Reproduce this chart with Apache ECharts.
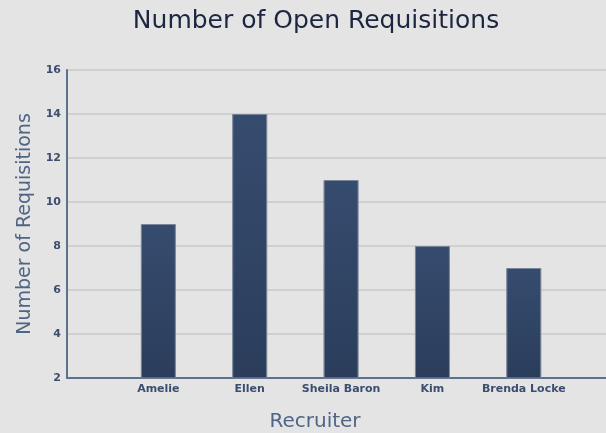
<!DOCTYPE html>
<html>
<head>
<meta charset="utf-8">
<script src="https://cdn.jsdelivr.net/npm/echarts@6/dist/echarts.min.js"></script>
<style>
	html, body { margin: 0; padding: 0; background: #e4e4e4; }
	#chart { width: 606px; height: 433px; }
</style>
</head>
<body>
<div id="chart"></div>
<script>
// 数据
const recruiters = ['Amelie', 'Ellen', 'Sheila Baron', 'Kim', 'Brenda Locke']
const openReqs = [9, 14, 11, 8, 7]
const yTicks = [2, 4, 6, 8, 10, 12, 14, 16]

const chartInstance = echarts.init(document.getElementById('chart'))
const labelColor = '#3b4e6e'
const nameColor = '#4f6585'

const option = {
	backgroundColor: '#e4e4e4',
	textStyle: { fontFamily: 'DejaVu Sans' },
	title: {
		text: 'Number of Open Requisitions',
		left: 311,
		top: 4,
		textAlign: 'center',
		textStyle: {
			fontFamily: 'DejaVu Sans',
			fontSize: 25,
			fontWeight: 'normal',
			color: '#1c2640',
		},
	},
	grid: {
		left: 67,
		right: 0,
		top: 70,
		bottom: 55,
		containLabel: false,
		outerBoundsMode: 'none',
	},
	xAxis: {
		type: 'value',
		min: 0,
		max: 5.9,
		interval: 1,
		name: 'Recruiter',
		nameLocation: 'middle',
		nameGap: 34,
		nameTextStyle: {
			fontSize: 20,
			color: nameColor,
			padding: [0, 43, 0, 0],
		},
		axisLine: { show: true, lineStyle: { color: '#5c7090', width: 2 } },
		axisTick: { show: false },
		splitLine: { show: false },
		axisLabel: {
			margin: 6,
			fontSize: 11,
			fontWeight: 'bold',
			color: labelColor,
			showMaxLabel: false,
			formatter: function (v) {
				return recruiters[v - 1] || ''
			},
		},
	},
	yAxis: {
		type: 'value',
		min: yTicks[0],
		max: yTicks[yTicks.length - 1],
		interval: 2,
		name: 'Number of Requisitions',
		nameLocation: 'middle',
		nameGap: 28,
		nameTextStyle: {
			fontSize: 19,
			color: nameColor,
		},
		axisLine: { show: true, lineStyle: { color: '#5c7090', width: 2 } },
		axisTick: { show: false },
		axisLabel: {
			margin: 6,
			fontSize: 11,
			fontWeight: 'bold',
			color: labelColor,
		},
		splitLine: {
			show: true,
			lineStyle: { color: '#d0d0d0', width: 2 },
		},
	},
	series: [
		{
			type: 'bar',
			barWidth: 35,
			data: openReqs.map((v, i) => [i + 1, v]),
			itemStyle: {
				color: new echarts.graphic.LinearGradient(0, 0, 0, 1, [
					{ offset: 0, color: '#364c6f' },
					{ offset: 1, color: '#2b3d5b' },
				]),
				borderColor: 'rgba(120,132,152,0.7)',
				borderWidth: 1,
			},
		},
	],
}
chartInstance.setOption(option)
</script>
</body>
</html>
